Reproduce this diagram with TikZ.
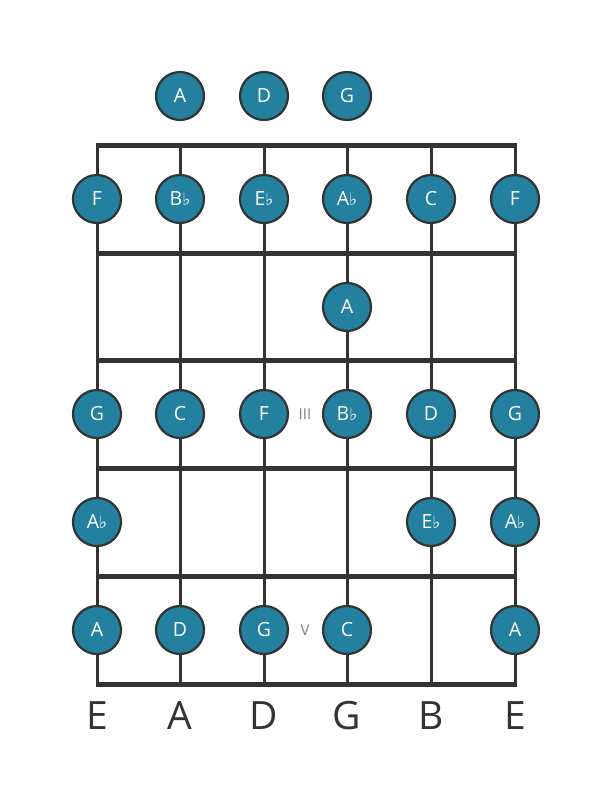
\documentclass[tikz,border=0pt]{standalone}
\usepackage{fontspec}
\setmainfont{Open Sans}
\newfontfamily\flatfont{DejaVu Sans}
\definecolor{notefill}{HTML}{23809E}
\definecolor{linedark}{HTML}{333333}
\newcommand{\fl}{{\flatfont\fontsize{17}{20}\selectfont ♭}}
\tikzset{
  note/.style={circle,draw=linedark,line width=2.2pt,fill=notefill,text=white,
    minimum size=48pt,inner sep=0pt,font=\fontsize{19.5}{22}\selectfont},
  stringline/.style={linedark,line width=3pt},
  fretline/.style={linedark,line width=5pt},
  marker/.style={text=gray,font=\fontsize{15}{17}\selectfont},
  stringname/.style={text=linedark,font=\fontsize{39}{44}\selectfont}
}
\begin{document}
\begin{tikzpicture}[x=1pt,y=-1pt]
            \useasboundingbox[fill=white] (0,0) rectangle (611,801);
            % Define string and fret positions
            \foreach \s/\x in {1/97,2/180,3/264,4/347,5/431,6/515}
              \coordinate (s\s) at (\x,0);
            \foreach \f/\y in {0/145,1/253,2/360,3/468,4/576,5/684}
              \coordinate (f\f) at (0,\y);

            % Draw the strings
            \foreach \s in {1,...,6}
              \draw[stringline] (s\s |- f0) -- (s\s |- f5);

            % Draw the frets
            \foreach \f in {0,...,5}
              \draw[fretline] ([xshift=-1.5pt]s1 |- f\f) -- ([xshift=1.5pt]s6 |- f\f);

            % Position markers
            \node[marker] (m3) at (305,414) {III};
            \node[marker] (m5) at (305,630) {V};

            % Open strings
            \node[note] (o2) at (180,96) {A};
            \node[note] (o3) at (264,96) {D};
            \node[note] (o4) at (347,96) {G};

            % Fret 1
            \foreach \s/\n in {1/F,2/B\fl,3/E\fl,4/A\fl,5/C,6/F}
              \node[note] (a\s) at (s\s |- 0,199) {\n};
            % Fret 2
            \node[note] (b4) at (s4 |- 0,307) {A};
            % Fret 3
            \foreach \s/\n in {1/G,2/C,3/F,4/B\fl,5/D,6/G}
              \node[note] (c\s) at (s\s |- 0,414) {\n};
            % Fret 4
            \foreach \s/\n in {1/A\fl,5/E\fl,6/A\fl}
              \node[note] (d\s) at (s\s |- 0,522) {\n};
            % Fret 5
            \foreach \s/\n in {1/A,2/D,3/G,4/C,6/A}
              \node[note] (e\s) at (s\s |- 0,630) {\n};

            % String names
            \foreach \s/\n in {1/E,2/A,3/D,4/G,5/B,6/E}
              \node[stringname] (n\s) at (s\s |- 0,716) {\n};
        \end{tikzpicture}
\end{document}
